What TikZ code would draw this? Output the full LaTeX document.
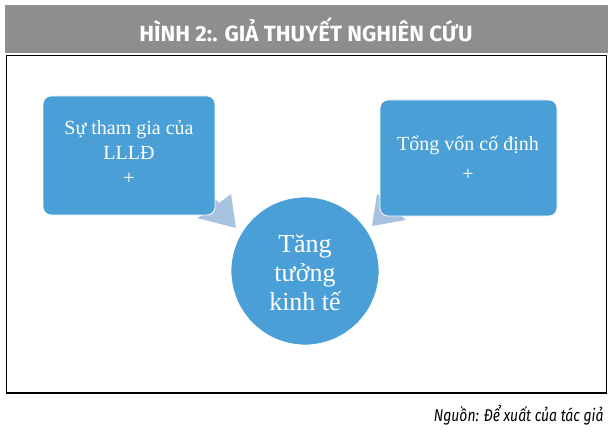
\documentclass[tikz,border=0pt]{standalone}
\usepackage{fontspec}
\usepackage{graphicx}
\setmainfont{Liberation Serif}
\newfontfamily\headfont{Fira Sans}
\definecolor{boxblue}{RGB}{74,160,214}
\definecolor{arrowblue}{RGB}{168,195,224}
\definecolor{headgray}{RGB}{142,142,145}
\tikzset{
  bluebox/.style={fill=boxblue, draw=white, line width=0.8pt, rounded corners=8pt},
  boxtext/.style={text=white, align=center, font=\fontsize{20}{25}\selectfont},
  circtext/.style={text=white, align=center, font=\fontsize{26}{29}\selectfont},
  blockarrow/.style={fill=arrowblue, draw=none}
}
\begin{document}
\begin{tikzpicture}[x=1pt,y=-1pt]
\useasboundingbox (0,0) rectangle (614,436);
% header
\fill[headgray] (5,5) rectangle (608,53);
\node[text=white, font=\headfont\bfseries\fontsize{22}{25}\selectfont] (title) at (306,30)
  {\scalebox{1.01}[1]{HÌNH 2:. GIẢ THUYẾT NGHIÊN CỨU}};
% frame
\draw[black, line width=1.6pt] (6.5,55.5) rectangle (606.5,393);
% arrows (drawn first, boxes cover their tails)
\coordinate (ltip) at (236,228);
\coordinate (rtip) at (372,226);
\fill[blockarrow] (188,202) -- (203,186) -- (219,203) -- (231,194) -- (ltip) -- (197,218) -- (207,213) -- cycle;
\fill[blockarrow] (420,192) -- (405,176) -- (391,203) -- (377,194) -- (rtip) -- (406,220) -- (398,213) -- cycle;
% boxes
\draw[bluebox] (43,96) rectangle (215,215);
\node[boxtext] (ltext) at (129,153) {Sự tham gia của\\LLLĐ\\+};
\draw[bluebox] (380,100) rectangle (557,216);
\node[boxtext] (rtext) at (468,158) {Tổng vốn cố định\\[5pt]+};
% circle
\node[circle, fill=boxblue, draw=white, line width=0.8pt, minimum size=148pt, inner sep=0pt] (growth) at (305,271) {};
\node[circtext] (gtext) at (305,273) {Tăng\\tưởng\\kinh tế};
% footer
\node[anchor=east, font=\headfont\itshape\fontsize{17}{19}\selectfont, text=black] (src) at (607,415)
  {\scalebox{0.82}[1]{Nguồn: Để xuất của tác giả}};
\end{tikzpicture}
\end{document}
